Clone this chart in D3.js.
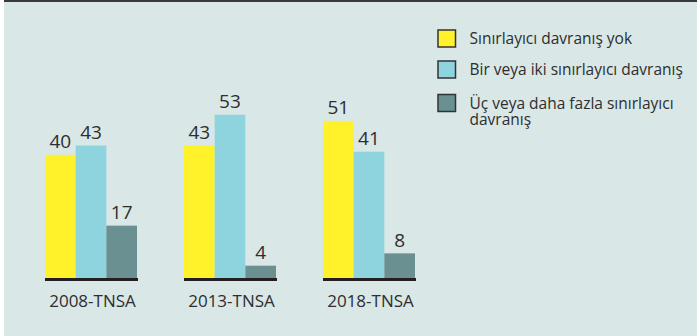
<!DOCTYPE html>
<html>
<head>
<meta charset="utf-8">
<script src="https://cdn.jsdelivr.net/npm/d3@7"></script>
<style>
  html, body { margin: 0; padding: 0; background: #ffffff; }
  svg { display: block; }
  text { font-family: "Open Sans", "Noto Sans", sans-serif; fill: #2e2e2e; }
</style>
</head>
<body>
<svg id="chart" width="697" height="336"></svg>
<script>
// Survey rounds and the share (%) in each behaviour group
const categories = ["2008-TNSA", "2013-TNSA", "2018-TNSA"];
const seriesNames = [
  "Sınırlayıcı davranış yok",
  "Bir veya iki sınırlayıcı davranış",
  "Üç veya daha fazla sınırlayıcı davranış"
];
const noneValues = [40, 43, 51];
const oneTwoValues = [43, 53, 41];
const threePlusValues = [17, 4, 8];
const seriesColors = ["#fff22b", "#8dd4de", "#6a9092"];

const series = [noneValues, oneTwoValues, threePlusValues];

const svg = d3.select("#chart");
const W = 697, H = 336;

// panel background with dark top rule
svg.append("rect").attr("x", 4).attr("y", 0).attr("width", W - 4).attr("height", H).attr("fill", "#d9e7e7");
svg.append("rect").attr("x", 4).attr("y", 0).attr("width", W - 4).attr("height", 2).attr("fill", "#3a3a3a");

const baseY = 278;
const y = d3.scaleLinear().domain([0, 10]).range([baseY, baseY - 30.8]);

const x0 = d3.scaleBand().domain(categories).range([45, 415]).paddingInner(0.338).paddingOuter(0);
const x1 = d3.scaleBand().domain(d3.range(series.length)).range([0, x0.bandwidth()]);

const groups = svg.append("g").selectAll("g")
  .data(categories)
  .join("g")
  .attr("transform", d => `translate(${x0(d)},0)`);

groups.selectAll("rect.bar")
  .data((d, i) => series.map((s, k) => ({ k, v: s[i] })))
  .join("rect")
  .attr("class", "bar")
  .attr("x", d => x1(d.k))
  .attr("width", x1.bandwidth())
  .attr("y", d => y(d.v))
  .attr("height", d => baseY - y(d.v))
  .attr("fill", d => seriesColors[d.k]);

groups.selectAll("text.val")
  .data((d, i) => series.map((s, k) => ({ k, v: s[i] })))
  .join("text")
  .attr("class", "val")
  .attr("x", d => x1(d.k) + x1.bandwidth() / 2)
  .attr("y", d => y(d.v) - 6.5)
  .attr("text-anchor", "middle")
  .attr("font-size", 19)
  .text(d => d.v);

// baseline under each group
groups.append("rect")
  .attr("x", 0)
  .attr("y", baseY)
  .attr("width", x0.bandwidth() + 1)
  .attr("height", 3)
  .attr("fill", "#231f20");

// category labels
groups.append("text")
  .attr("x", x0.bandwidth() / 2 + 1.5)
  .attr("y", 307)
  .attr("text-anchor", "middle")
  .attr("font-size", 17)
  .text(d => d);

// legend
const legendRows = [
  { k: 0, y: 30, lines: ["Sınırlayıcı davranış yok"] },
  { k: 1, y: 61, lines: ["Bir veya iki sınırlayıcı davranış"] },
  { k: 2, y: 94.5, lines: ["Üç veya daha fazla sınırlayıcı", "davranış"] }
];
const legend = svg.append("g");
const item = legend.selectAll("g").data(legendRows).join("g")
  .attr("transform", d => `translate(438,${d.y})`);
item.append("rect")
  .attr("width", 17.5).attr("height", 17)
  .attr("fill", d => seriesColors[d.k])
  .attr("stroke", "#333").attr("stroke-width", 1.5);
item.append("text")
  .attr("x", 31.5)
  .attr("y", 14)
  .attr("font-size", 15.5)
  .selectAll("tspan")
  .data(d => d.lines)
  .join("tspan")
  .attr("x", 31.5)
  .attr("dy", (d, i) => i === 0 ? 0 : 16)
  .text(d => d);
</script>
</body>
</html>
